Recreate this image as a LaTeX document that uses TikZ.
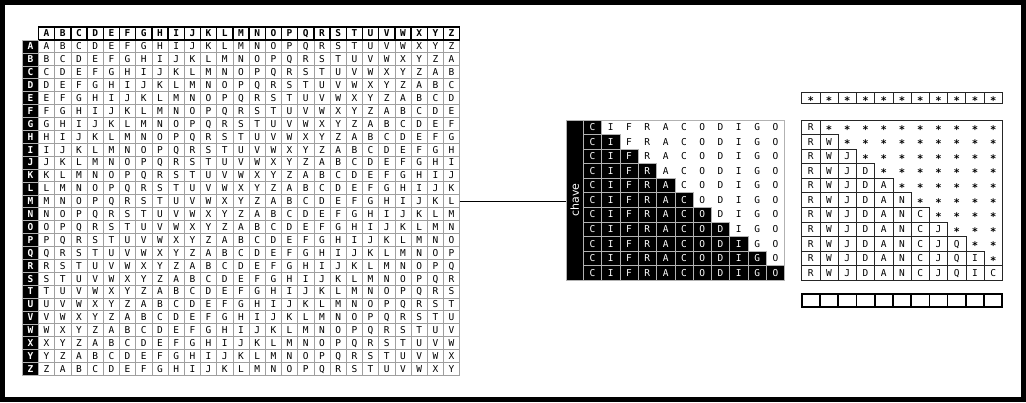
\documentclass[tikz,border=0pt]{standalone}
\usepackage{fontspec}
\setmainfont{DejaVu Sans}
\newfontfamily\monof{DejaVu Sans Mono}
\newcommand\AlphN[1]{\ifcase#1 A\or B\or C\or D\or E\or F\or G\or H\or I\or J\or K\or L\or M\or N\or O\or P\or Q\or R\or S\or T\or U\or V\or W\or X\or Y\or Z\fi}
\newcommand\starc{\raisebox{-2.6pt}{\bfseries\fontsize{10.5}{10.5}\selectfont *}}
\begin{document}
\begin{tikzpicture}[x=1pt,y=-1pt,
  txt/.style={inner sep=0pt,outer sep=0pt,text height=6.9pt,text depth=0pt,font=\monof\fontsize{9.5}{9.5}\selectfont},
  cell/.style={txt,minimum width=16.2pt,minimum height=12.9pt},
  data/.style={cell,draw=gray!75,line width=0.7pt},
  head/.style={cell,draw=black,line width=1.4pt,font=\monof\bfseries\fontsize{9.5}{9.5}\selectfont},
  rowhead/.style={cell,fill=black,draw=gray!60,line width=0.4pt,text=white,font=\monof\bfseries\fontsize{9.5}{9.5}\selectfont},
  kcell/.style={txt,minimum width=18.3pt,minimum height=14.545pt},
  kblack/.style={kcell,fill=black,draw=gray!60,line width=0.5pt,text=white},
  kwhite/.style={kcell},
  scell/.style={txt,minimum width=18.24pt,minimum height=14.545pt},
  sbox/.style={scell,draw=gray!30!black,line width=0.6pt},
  topbox/.style={txt,minimum width=18.24pt,minimum height=11pt,draw=gray!30!black,line width=0.8pt},
  botbox/.style={txt,minimum width=18.24pt,minimum height=12.4pt,draw=black,line width=1.7pt},
  conn/.style={draw=black,line width=0.8pt}
]
\useasboundingbox (0,0) rectangle (1026,402);
\fill[black] (0,0) rectangle (1026,402);
\fill[white] (5,5) rectangle (1021,397);

% ---- Vigenere table ----
\foreach \r in {0,...,25}{
  \foreach \c in {0,...,25}{
    \pgfmathtruncatemacro\k{mod(\r+\c,26)}
    \node[data] (g-\r-\c) at ({38.5+16.2*(\c+0.5)},{27+12.9*(\r+1.5)}) {\AlphN{\k}};
  }
}
\foreach \c in {0,...,25}{
  \node[head] (h-\c) at ({38.5+16.2*(\c+0.5)},{27+12.9*0.5}) {\AlphN{\c}};
}
\foreach \r in {0,...,25}{
  \node[rowhead] (rh-\r) at ({38.5-8.1},{27+12.9*(\r+1.5)}) {\AlphN{\r}};
}

% ---- key block ----
\node[fill=black,inner sep=0pt,minimum width=17.3pt,minimum height=160pt] (chave) at (574.65,200) {};
\node[rotate=90,text=white,inner sep=0pt,font=\fontsize{11}{11}\selectfont] (chavelbl) at (chave.center) {chave};
\foreach \r in {0,...,10}{
  \foreach \L [count=\c from 0] in {C,I,F,R,A,C,O,D,I,G,O}{
    \ifnum\c>\r
      \node[kwhite] (k-\r-\c) at ({583.3+18.3*(\c+0.5)},{120+14.545*(\r+0.5)}) {\L};
    \else
      \node[kblack] (k-\r-\c) at ({583.3+18.3*(\c+0.5)},{120+14.545*(\r+0.5)}) {\L};
    \fi
  }
}
\draw[gray!60,line width=0.6pt] (chave.north west) rectangle (k-10-10.south east);

% ---- connector ----
\draw[conn] (g-12-25.east) -- (g-12-25.east -| chave.west);

% ---- stars row ----
\foreach \c in {0,...,10}{
  \node[topbox] (t-\c) at ({801.7+18.24*(\c+0.5)},98.2) {\starc};
}

% ---- staircase ----
\foreach \r in {0,...,10}{
  \foreach \L [count=\c from 0] in {R,W,J,D,A,N,C,J,Q,I,C}{
    \ifnum\c>\r
      \node[scell] (s-\r-\c) at ({801.7+18.24*(\c+0.5)},{120+14.545*(\r+0.5)}) {\starc};
    \else
      \node[sbox] (s-\r-\c) at ({801.7+18.24*(\c+0.5)},{120+14.545*(\r+0.5)}) {\L};
    \fi
  }
}
\draw[gray!30!black,line width=0.6pt] (s-0-0.north west) rectangle (s-10-10.south east);

% ---- empty boxes ----
\foreach \c in {0,...,10}{
  \node[botbox] (b-\c) at ({801.7+18.24*(\c+0.5)},300.5) {};
}
\end{tikzpicture}
\end{document}
